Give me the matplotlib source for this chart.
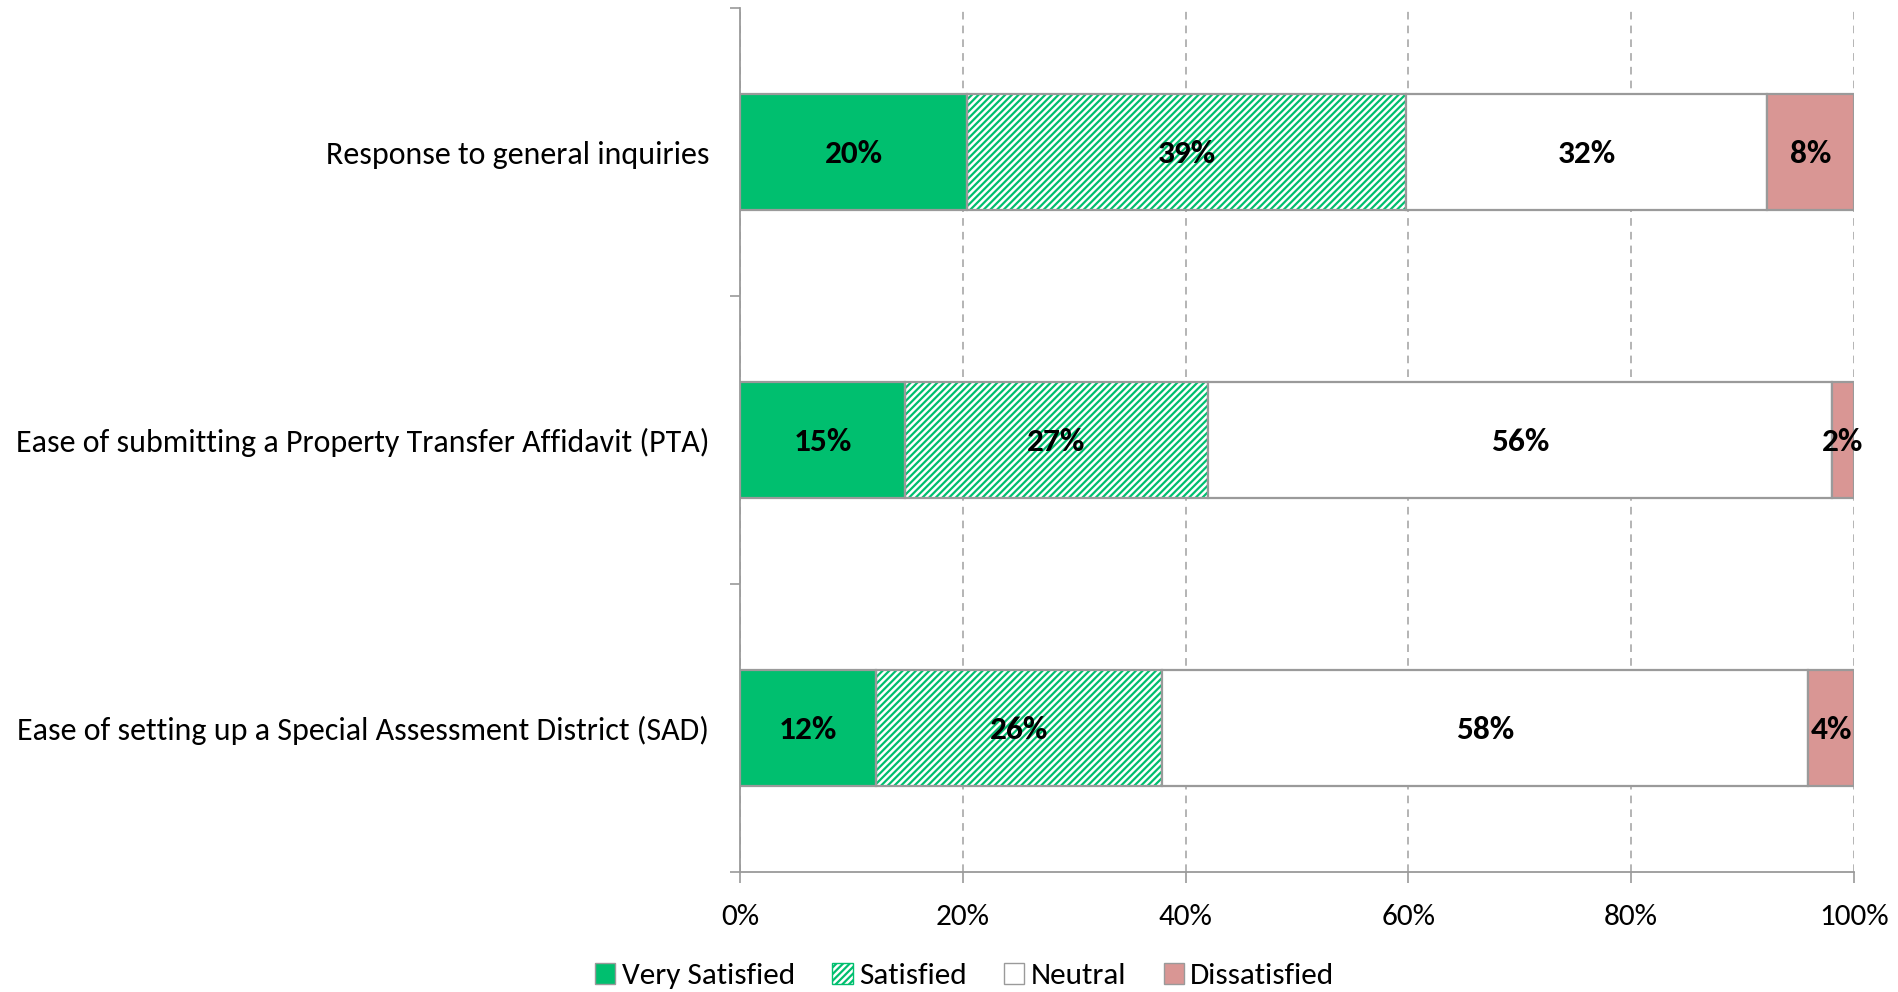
import numpy as np
import matplotlib.pyplot as plt
from matplotlib.patches import Patch

plt.rcParams['font.family'] = ['Carlito', 'Liberation Sans Narrow', 'Roboto', 'DejaVu Sans']
plt.rcParams['hatch.linewidth'] = 1.6

categories = ['Response to general inquiries',
              'Ease of submitting a Property Transfer Affidavit (PTA)',
              'Ease of setting up a Special Assessment District (SAD)']
series = ['Very Satisfied', 'Satisfied', 'Neutral', 'Dissatisfied']
very_satisfied = [20.4, 14.8, 12.2]
satisfied = [39.4, 27.2, 25.7]
neutral = [32.4, 56.0, 58.0]
dissatisfied = [7.8, 2.0, 4.1]
labels = [['20%', '15%', '12%'],
          ['39%', '27%', '26%'],
          ['32%', '56%', '58%'],
          ['8%', '2%', '4%']]
xticks = [0, 20, 40, 60, 80, 100]

green = '#00BF6F'
pink = '#D99694'
edge = '#9A9A9A'

fig = plt.figure(figsize=(18.99, 9.92), dpi=100)
ax = fig.add_axes([0.3897, 0.121, 0.5866, 0.8709])

y = np.arange(len(categories)) + 0.5
h = 0.40
vals = [very_satisfied, satisfied, neutral, dissatisfied]
left = np.zeros(len(categories))
for i, v in enumerate(vals):
    v = np.array(v)
    if i == 1:
        ax.barh(y, v, h, left=left, color='white', edgecolor=green,
                hatch='/////', linewidth=0, zorder=2)
        ax.barh(y, v, h, left=left, fill=False, edgecolor=edge,
                linewidth=1.6, zorder=3)
    else:
        fc = [green, None, 'white', pink][i]
        ax.barh(y, v, h, left=left, color=fc, edgecolor=edge,
                linewidth=1.6, zorder=3)
    for j in range(len(categories)):
        ax.text(left[j] + v[j] / 2, y[j] + 0.006, labels[i][j], ha='center',
                va='center', fontsize=24, fontweight='bold', color='black',
                zorder=5)
    left += v

ax.set_xlim(0, 100)
ax.set_ylim(3, 0)
ax.set_xticks(xticks)
ax.set_xticklabels([f'{t}%' for t in xticks], fontsize=22.5)
ax.set_yticks([0, 1, 2, 3])
ax.set_yticklabels([])
ax.set_yticks(y, minor=True)
ax.set_yticklabels(categories, minor=True, fontsize=23)
ax.tick_params(axis='y', which='minor', length=0, pad=22)
ax.tick_params(axis='y', which='major', length=7, color=edge, width=1.2)
ax.tick_params(axis='x', length=8, color=edge, width=1.2, pad=15)

ax.grid(axis='x', linestyle=(0, (5, 4)), color='#A0A0A0', linewidth=1.1, zorder=0)
for s in ['top', 'right']:
    ax.spines[s].set_visible(False)
for s in ['left', 'bottom']:
    ax.spines[s].set_color(edge)
    ax.spines[s].set_linewidth(1.3)

handles = [Patch(facecolor=green, edgecolor=edge),
           Patch(facecolor='white', edgecolor=green, hatch='/////'),
           Patch(facecolor='white', edgecolor=edge),
           Patch(facecolor=pink, edgecolor=edge)]
fig.legend(handles, series, loc='center', bbox_to_anchor=(0.508, 0.016),
           ncol=4, frameon=False, fontsize=22.5, handlelength=0.65,
           handleheight=0.65, handletextpad=0.2, columnspacing=1.2)

fig.savefig('out.png', dpi=100)
